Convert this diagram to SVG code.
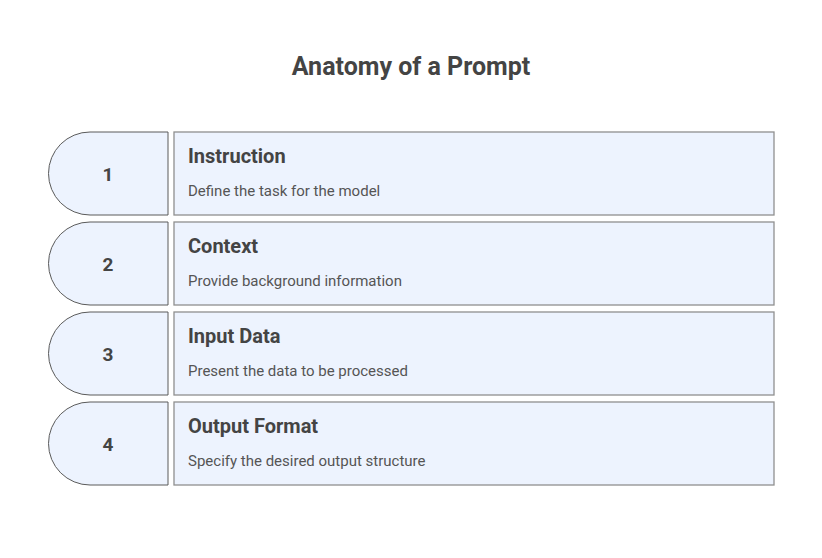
<svg xmlns="http://www.w3.org/2000/svg" width="822" height="558" viewBox="0 0 822 558">
<style>
.bg{fill:#ffffff}
.tab{fill:#EDF3FE;stroke:#5a5a5a;stroke-width:1}
.box{fill:#EDF3FE;stroke:#8f8f8f;stroke-width:1.3}
.num{font-family:Roboto,"Liberation Sans",sans-serif;font-weight:bold;font-size:19px;fill:#444444;text-anchor:middle}
.head{font-family:Roboto,"Liberation Sans",sans-serif;font-weight:bold;font-size:20px;fill:#444444}
.desc{font-family:Roboto,"Liberation Sans",sans-serif;font-size:15px;fill:#555555}
.title{font-family:Roboto,"Liberation Sans",sans-serif;font-weight:bold;font-size:25px;fill:#444444;text-anchor:middle}
</style>
<rect class="bg" x="0" y="0" width="822" height="558"/>
<text class="title" x="411" y="75">Anatomy of a Prompt</text>
<g id="connectors"></g>
<g id="step1">
<path class="tab" d="M168,132 H90 A41.5,41.5 0 0 0 90,215 H168 Z"/>
<text class="num" x="108" y="181">1</text>
<rect class="box" x="174" y="132" width="600" height="83"/>
<text class="head" x="188" y="163">Instruction</text>
<text class="desc" x="188" y="196">Define the task for the model</text>
</g>
<g id="step2">
<path class="tab" d="M168,222 H90 A41.5,41.5 0 0 0 90,305 H168 Z"/>
<text class="num" x="108" y="271">2</text>
<rect class="box" x="174" y="222" width="600" height="83"/>
<text class="head" x="188" y="253">Context</text>
<text class="desc" x="188" y="286">Provide background information</text>
</g>
<g id="step3">
<path class="tab" d="M168,312 H90 A41.5,41.5 0 0 0 90,395 H168 Z"/>
<text class="num" x="108" y="361">3</text>
<rect class="box" x="174" y="312" width="600" height="83"/>
<text class="head" x="188" y="343">Input Data</text>
<text class="desc" x="188" y="376">Present the data to be processed</text>
</g>
<g id="step4">
<path class="tab" d="M168,402 H90 A41.5,41.5 0 0 0 90,485 H168 Z"/>
<text class="num" x="108" y="451">4</text>
<rect class="box" x="174" y="402" width="600" height="83"/>
<text class="head" x="188" y="433">Output Format</text>
<text class="desc" x="188" y="466">Specify the desired output structure</text>
</g>
</svg>
